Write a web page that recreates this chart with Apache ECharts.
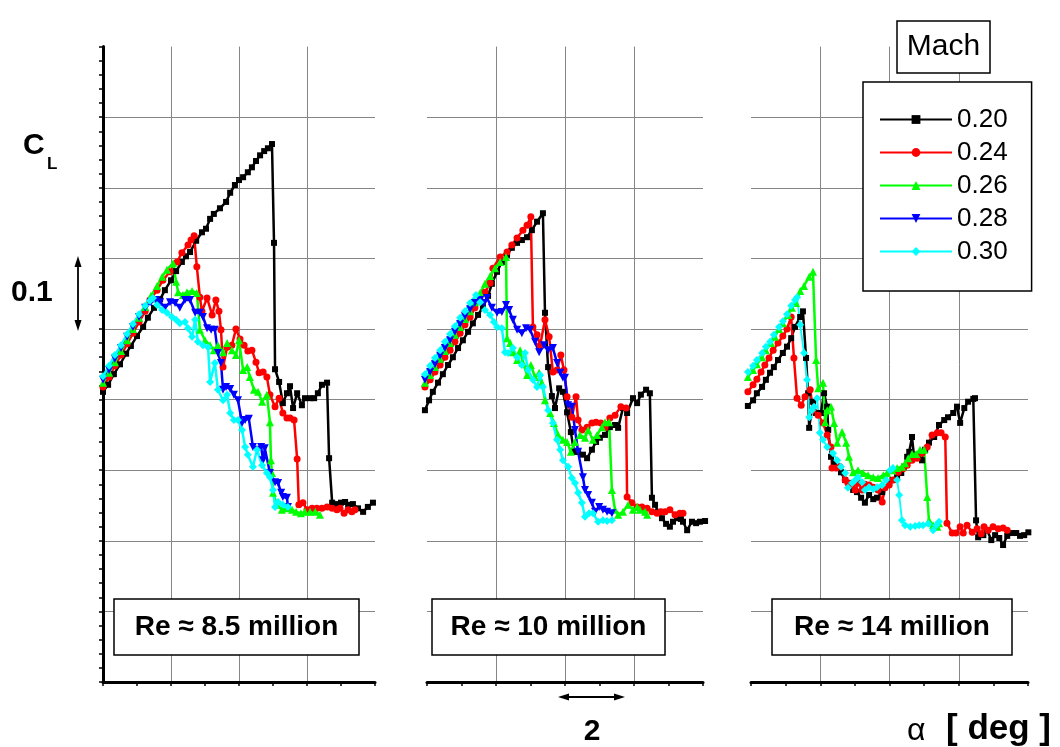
<!DOCTYPE html>
<html>
<head>
<meta charset="utf-8">
<script src="https://cdn.jsdelivr.net/npm/echarts@6/dist/echarts.min.js"></script>
<style>
html,body{margin:0;padding:0;background:#fff}
#chart{width:1060px;height:747px}
</style>
</head>
<body>
<div id="chart"></div>
<script>
// Mach numbers of the runs (legend entries)
const machLabels = ['0.20', '0.24', '0.26', '0.28', '0.30'];
// Reynolds-number captions, one per panel
const panelTitles = ['Re \u2248 8.5 million', 'Re \u2248 10 million', 'Re \u2248 14 million'];
// Scale-bar labels
const clScaleLabel = '0.1';
const alphaScaleLabel = '2';

// Each run: [alpha (deg, relative to panel origin), CL]
// ---- Re ~ 8.5 million ----
const re85_m20 = [[0,.411],[.15,.421],[.32,.436],[.5,.45],[.68,.465],[.82,.476],[1,.49],[1.18,.503],[1.32,.516],[1.5,.53],[1.68,.542],[1.82,.555],[2,.569],[2.15,.582],[2.32,.595],[2.44,.603],[2.56,.609],[2.74,.625],[2.91,.637],[3.03,.642],[3.15,.656],[3.26,.663],[3.44,.671],[3.62,.68],[3.74,.693],[3.88,.704],[4,.711],[4.12,.715],[4.26,.722],[4.38,.729],[4.5,.738],[4.62,.746],[4.74,.752],[4.85,.756],[4.97,.762],[5.03,.622],[5.06,.443],[5.18,.425],[5.29,.395],[5.41,.409],[5.5,.419],[5.59,.388],[5.71,.409],[5.85,.392],[5.94,.402],[6.09,.402],[6.21,.402],[6.32,.409],[6.44,.421],[6.59,.424],[6.65,.317],[6.74,.254],[6.88,.252],[7,.254],[7.12,.255],[7.21,.251],[7.35,.252],[7.5,.246],[7.65,.241],[7.79,.248],[7.94,.254]];
const re85_m24 = [[0,.418],[.18,.432],[.35,.448],[.53,.463],[.71,.479],[.88,.494],[1.06,.51],[1.24,.525],[1.38,.541],[1.59,.555],[1.76,.569],[1.97,.581],[2.18,.595],[2.32,.608],[2.5,.619],[2.59,.626],[2.68,.632],[2.76,.588],[2.85,.545],[2.91,.525],[3.06,.544],[3.21,.52],[3.32,.541],[3.41,.525],[3.47,.499],[3.53,.446],[3.65,.474],[3.79,.477],[3.91,.5],[4.03,.486],[4.15,.477],[4.26,.469],[4.38,.47],[4.5,.453],[4.59,.438],[4.71,.439],[4.82,.432],[4.91,.407],[5.06,.39],[5.18,.402],[5.29,.381],[5.41,.374],[5.5,.374],[5.62,.371],[5.71,.316],[5.76,.251],[5.88,.254],[6,.244],[6.15,.246],[6.29,.246],[6.44,.246],[6.59,.248],[6.74,.246],[6.88,.244],[6.97,.246],[7.09,.239],[7.21,.244],[7.32,.241],[7.41,.244]];
const re85_m26 = [[0,.424],[.18,.438],[.35,.453],[.53,.469],[.71,.484],[.88,.5],[1.06,.516],[1.24,.531],[1.41,.547],[1.59,.561],[1.74,.574],[1.88,.584],[2.06,.593],[2.15,.567],[2.21,.552],[2.35,.548],[2.47,.552],[2.62,.554],[2.76,.551],[2.85,.499],[3,.484],[3.15,.477],[3.26,.47],[3.38,.477],[3.53,.467],[3.65,.48],[3.79,.47],[3.91,.463],[4,.484],[4.12,.442],[4.24,.446],[4.32,.432],[4.44,.414],[4.56,.411],[4.68,.397],[4.82,.407],[4.91,.368],[4.94,.314],[4.97,.296],[5,.268],[5.12,.251],[5.26,.244],[5.41,.246],[5.56,.244],[5.68,.241],[5.82,.239],[5.94,.241],[6.09,.241],[6.24,.241],[6.38,.237]];
const re85_m28 = [[0,.428],[.18,.442],[.35,.458],[.53,.473],[.71,.489],[.88,.503],[1.06,.517],[1.24,.53],[1.41,.538],[1.56,.541],[1.68,.538],[1.82,.53],[1.97,.538],[2.12,.537],[2.26,.53],[2.41,.541],[2.56,.541],[2.71,.523],[2.85,.523],[2.94,.517],[3.06,.501],[3.18,.499],[3.29,.499],[3.38,.466],[3.47,.452],[3.53,.414],[3.62,.418],[3.74,.415],[3.85,.407],[3.97,.399],[4.09,.367],[4.18,.371],[4.29,.373],[4.41,.333],[4.53,.329],[4.65,.333],[4.71,.314],[4.76,.331],[4.91,.296],[5.06,.283],[5.15,.282],[5.24,.268],[5.29,.262],[5.41,.261],[5.44,.248]];
const re85_m30 = [[0,.433],[.18,.448],[.35,.463],[.53,.477],[.71,.493],[.88,.507],[1.06,.521],[1.24,.533],[1.38,.54],[1.47,.544],[1.59,.534],[1.74,.527],[1.88,.523],[2.03,.517],[2.15,.513],[2.26,.508],[2.41,.51],[2.5,.501],[2.62,.489],[2.71,.513],[2.79,.482],[2.94,.477],[3.09,.474],[3.15,.425],[3.29,.452],[3.38,.414],[3.53,.399],[3.65,.407],[3.74,.381],[3.85,.371],[3.97,.371],[4.09,.357],[4.18,.333],[4.26,.322],[4.41,.305],[4.53,.329],[4.68,.307],[4.82,.296],[4.91,.29],[5,.272],[5.06,.248],[5.15,.255],[5.29,.251],[5.44,.248]];

// ---- Re ~ 10 million ----
const re10_m20 = [[-.06,.385],[.06,.399],[.17,.411],[.32,.424],[.46,.436],[.61,.449],[.75,.46],[.9,.473],[1.04,.484],[1.19,.496],[1.33,.508],[1.48,.52],[1.62,.531],[1.77,.547],[1.88,.564],[2.03,.581],[2.17,.595],[2.32,.605],[2.46,.615],[2.61,.622],[2.75,.626],[2.9,.63],[3.04,.64],[3.19,.652],[3.36,.664],[3.42,.523],[3.51,.446],[3.62,.405],[3.71,.388],[3.83,.416],[3.94,.411],[4.06,.382],[4.17,.354],[4.26,.326],[4.38,.326],[4.52,.322],[4.64,.317],[4.78,.329],[4.9,.34],[5.01,.346],[5.16,.35],[5.3,.361],[5.45,.364],[5.54,.36],[5.68,.388],[5.8,.381],[5.97,.402],[6.09,.395],[6.2,.407],[6.35,.414],[6.46,.409],[6.52,.261],[6.61,.251],[6.7,.241],[6.81,.232],[6.93,.224],[7.04,.22],[7.13,.227],[7.25,.232],[7.36,.231],[7.42,.227],[7.54,.215],[7.68,.227],[7.8,.225],[7.91,.227],[8.06,.228]];
const re10_m24 = [[-.06,.418],[.09,.428],[.23,.439],[.38,.449],[.52,.46],[.67,.47],[.81,.482],[.96,.494],[1.1,.506],[1.25,.517],[1.39,.53],[1.54,.541],[1.68,.552],[1.83,.565],[1.91,.586],[2.12,.602],[2.32,.609],[2.46,.619],[2.61,.629],[2.78,.64],[2.9,.647],[3.01,.659],[3.07,.503],[3.19,.492],[3.28,.477],[3.42,.513],[3.54,.489],[3.65,.439],[3.77,.442],[3.88,.463],[3.97,.442],[4.06,.404],[4.2,.375],[4.32,.404],[4.38,.371],[4.49,.357],[4.64,.361],[4.78,.367],[4.9,.368],[5.04,.367],[5.16,.36],[5.3,.374],[5.45,.378],[5.62,.39],[5.77,.388],[5.8,.262],[5.94,.254],[6.09,.248],[6.23,.248],[6.38,.246],[6.52,.241],[6.67,.239],[6.78,.241],[6.9,.241],[7.04,.244],[7.19,.237],[7.33,.239],[7.42,.239]];
const re10_m26 = [[-.06,.424],[.09,.435],[.23,.446],[.38,.458],[.52,.469],[.67,.48],[.81,.492],[.96,.503],[1.1,.514],[1.25,.525],[1.39,.538],[1.54,.551],[1.68,.564],[1.83,.575],[1.97,.586],[2.12,.595],[2.29,.602],[2.32,.487],[2.41,.48],[2.49,.467],[2.61,.456],[2.7,.47],[2.78,.452],[2.9,.435],[3.01,.449],[3.13,.432],[3.25,.438],[3.33,.424],[3.42,.399],[3.57,.381],[3.68,.367],[3.8,.35],[3.94,.343],[4.06,.34],[4.17,.326],[4.29,.34],[4.43,.35],[4.58,.346],[4.67,.357],[4.81,.343],[4.93,.35],[5.07,.361],[5.16,.368],[5.28,.368],[5.36,.272],[5.45,.244],[5.54,.237],[5.68,.241],[5.83,.251],[5.97,.244],[6.09,.248],[6.17,.244],[6.32,.241],[6.38,.237]];
const re10_m28 = [[-.06,.428],[.09,.439],[.23,.45],[.38,.462],[.52,.473],[.67,.484],[.81,.496],[.96,.507],[1.1,.518],[1.25,.528],[1.39,.537],[1.54,.541],[1.65,.537],[1.74,.544],[1.88,.53],[2.03,.523],[2.17,.524],[2.29,.534],[2.38,.527],[2.49,.513],[2.61,.499],[2.75,.494],[2.87,.501],[2.99,.499],[3.13,.482],[3.25,.467],[3.39,.477],[3.51,.47],[3.65,.473],[3.77,.452],[3.86,.438],[3.94,.431],[4,.431],[4.09,.392],[4.2,.39],[4.29,.357],[4.38,.326],[4.52,.29],[4.58,.272],[4.67,.265],[4.78,.254],[4.87,.241],[4.99,.248],[5.1,.244],[5.22,.241],[5.36,.239]];
const re10_m30 = [[-.06,.436],[.09,.448],[.23,.459],[.38,.47],[.52,.482],[.67,.493],[.81,.504],[.96,.516],[1.1,.525],[1.25,.537],[1.42,.548],[1.54,.538],[1.68,.527],[1.83,.52],[1.94,.51],[2.03,.503],[2.17,.501],[2.26,.467],[2.35,.466],[2.49,.473],[2.61,.46],[2.75,.449],[2.84,.466],[2.93,.442],[3.07,.428],[3.19,.418],[3.28,.435],[3.36,.418],[3.51,.385],[3.65,.367],[3.77,.343],[3.86,.329],[3.94,.314],[4.09,.305],[4.2,.289],[4.29,.282],[4.38,.268],[4.49,.254],[4.58,.234],[4.7,.239],[4.81,.239],[4.96,.227],[5.1,.229],[5.22,.228],[5.36,.229]];

// ---- Re ~ 14 million ----
const re14_m20 = [[-.09,.391],[.06,.399],[.17,.409],[.32,.418],[.43,.428],[.55,.438],[.66,.446],[.78,.456],[.92,.466],[1.04,.475],[1.16,.487],[1.27,.503],[1.42,.517],[1.5,.525],[1.59,.459],[1.65,.409],[1.68,.36],[1.79,.397],[1.88,.381],[2.02,.381],[2.11,.409],[2.2,.39],[2.23,.357],[2.31,.319],[2.4,.31],[2.49,.303],[2.6,.297],[2.72,.286],[2.83,.282],[2.95,.272],[3.06,.269],[3.18,.261],[3.29,.254],[3.41,.265],[3.53,.259],[3.64,.261],[3.79,.269],[3.87,.276],[3.99,.282],[4.1,.286],[4.22,.29],[4.34,.296],[4.42,.305],[4.51,.319],[4.57,.326],[4.65,.347],[4.71,.319],[4.83,.322],[4.94,.314],[5.03,.329],[5.14,.339],[5.29,.347],[5.43,.364],[5.58,.371],[5.69,.375],[5.84,.381],[5.95,.39],[6.04,.367],[6.16,.388],[6.27,.397],[6.42,.401],[6.47,.402],[6.5,.229],[6.56,.205],[6.71,.208],[6.82,.215],[6.94,.201],[7.05,.208],[7.17,.204],[7.28,.194],[7.4,.207],[7.54,.211],[7.66,.211],[7.77,.207],[7.89,.208],[8.01,.212]];
const re14_m24 = [[-.09,.411],[.06,.421],[.17,.429],[.29,.439],[.4,.449],[.52,.459],[.64,.47],[.78,.48],[.92,.49],[1.04,.5],[1.16,.517],[1.24,.459],[1.33,.402],[1.45,.392],[1.56,.404],[1.71,.414],[1.79,.385],[1.94,.378],[2.08,.367],[2.2,.35],[2.31,.333],[2.34,.303],[2.46,.303],[2.57,.305],[2.72,.286],[2.8,.282],[2.92,.279],[3.01,.272],[3.09,.282],[3.21,.272],[3.29,.28],[3.41,.279],[3.53,.276],[3.67,.272],[3.79,.255],[3.87,.275],[3.99,.279],[4.1,.286],[4.25,.297],[4.39,.302],[4.51,.307],[4.65,.314],[4.8,.317],[4.94,.324],[5.09,.333],[5.23,.35],[5.38,.353],[5.49,.353],[5.61,.347],[5.66,.225],[5.81,.211],[5.92,.211],[6.04,.22],[6.13,.211],[6.24,.222],[6.39,.212],[6.53,.217],[6.65,.21],[6.73,.22],[6.85,.215],[6.99,.22],[7.14,.217],[7.28,.218],[7.4,.215]];
const re14_m26 = [[-.09,.432],[.06,.442],[.17,.45],[.32,.46],[.43,.47],[.58,.48],[.69,.489],[.81,.5],[.92,.508],[1.07,.52],[1.18,.53],[1.3,.537],[1.42,.554],[1.53,.561],[1.68,.574],[1.79,.581],[1.88,.456],[1.94,.416],[2.08,.424],[2.14,.368],[2.2,.385],[2.31,.39],[2.4,.367],[2.49,.339],[2.63,.354],[2.75,.339],[2.83,.319],[2.95,.297],[3.09,.3],[3.24,.296],[3.38,.293],[3.53,.29],[3.67,.289],[3.82,.293],[3.93,.296],[4.08,.3],[4.22,.303],[4.36,.305],[4.45,.31],[4.54,.317],[4.65,.323],[4.77,.323],[4.88,.329],[5,.329],[5.09,.262],[5.14,.229],[5.26,.222],[5.38,.22],[5.43,.225]];
const re14_m30 = [[-.09,.439],[.06,.448],[.17,.456],[.32,.466],[.43,.475],[.55,.482],[.66,.492],[.81,.503],[.92,.511],[1.04,.521],[1.16,.533],[1.27,.541],[1.33,.545],[1.42,.506],[1.53,.466],[1.62,.428],[1.68,.375],[1.76,.385],[1.82,.39],[1.91,.402],[1.99,.353],[2.08,.343],[2.2,.333],[2.37,.324],[2.49,.314],[2.6,.305],[2.72,.296],[2.8,.275],[2.92,.282],[3.01,.286],[3.09,.29],[3.21,.283],[3.29,.272],[3.41,.276],[3.53,.273],[3.64,.276],[3.79,.279],[3.9,.286],[4.02,.3],[4.1,.303],[4.22,.286],[4.28,.265],[4.36,.229],[4.45,.222],[4.6,.22],[4.74,.221],[4.86,.222],[4.97,.222],[5.12,.224],[5.26,.215],[5.35,.222],[5.43,.227]];

// Runs grouped per panel
const panels = [
  { runs: [['0.20', re85_m20], ['0.24', re85_m24], ['0.26', re85_m26], ['0.28', re85_m28], ['0.30', re85_m30]] },
  { runs: [['0.20', re10_m20], ['0.24', re10_m24], ['0.26', re10_m26], ['0.28', re10_m28], ['0.30', re10_m30]] },
  { runs: [['0.20', re14_m20], ['0.24', re14_m24], ['0.26', re14_m26], ['0.30', re14_m30]] }
];

// Line colour and marker for each Mach number
const machStyle = {
  '0.20': { color: '#000000', symbol: 'rect', size: 6, rotate: 0 },
  '0.24': { color: '#ff0000', symbol: 'circle', size: 7, rotate: 0 },
  '0.26': { color: '#00ff00', symbol: 'triangle', size: 8, rotate: 0 },
  '0.28': { color: '#0000ff', symbol: 'triangle', size: 8, rotate: 180 },
  '0.30': { color: '#00ffff', symbol: 'diamond', size: 8, rotate: 0 }
};

const FONT = '"Liberation Sans", Arial, Helvetica, sans-serif';
const gridBoxes = [
  { left: 103, width: 272 },
  { left: 427, width: 276 },
  { left: 751, width: 277 }
];
const TOP = 46.6, HEIGHT = 635.4;
const gridGray = '#858585';

const grids = gridBoxes.map(g => ({ left: g.left, top: TOP, width: g.width, height: HEIGHT, containLabel: false }));

const xAxes = gridBoxes.map((g, i) => ({
  type: 'value', gridIndex: i, min: 0, max: 8, interval: 2,
  axisLine: { show: true, onZero: false, lineStyle: { color: '#000', width: 3 } },
  axisTick: { show: true, length: 4, lineStyle: { color: '#000', width: 1.5 } },
  minorTick: { show: true, splitNumber: 2, length: 4, lineStyle: { color: '#000', width: 1.5 } },
  axisLabel: { show: false },
  splitLine: { show: true, showMinLine: false, showMaxLine: false, lineStyle: { color: gridGray, width: 1 } }
}));

const yAxes = gridBoxes.map((g, i) => ({
  type: 'value', gridIndex: i, min: 0, max: 0.9, interval: 0.1,
  axisLine: { show: i === 0, onZero: false, lineStyle: { color: '#000', width: 3 } },
  axisTick: { show: i === 0, length: 4, lineStyle: { color: '#000', width: 1.5 } },
  minorTick: { show: i === 0, splitNumber: 5, length: 4, lineStyle: { color: '#000', width: 1.5 } },
  axisLabel: { show: false },
  splitLine: { show: true, showMinLine: false, showMaxLine: false, lineStyle: { color: gridGray, width: 1 } }
}));

const series = [];
panels.forEach((p, i) => {
  p.runs.forEach(([mach, data]) => {
    const st = machStyle[mach];
    series.push({
      type: 'line', name: mach, xAxisIndex: i, yAxisIndex: i, data: data,
      clip: false, showSymbol: true, showAllSymbol: true,
      symbol: st.symbol, symbolSize: st.size, symbolRotate: st.rotate,
      lineStyle: { color: st.color, width: (i === 2 && mach === '0.30') ? 1.8 : 2.5 },
      itemStyle: { color: st.color, borderWidth: 0 },
      emphasis: { disabled: true },
      animation: false
    });
  });
});

// Caption boxes and scale annotations
const captionBoxes = [
  { x: 114, w: 245 },
  { x: 432, w: 233 },
  { x: 772, w: 240 }
];
const graphic = [];
captionBoxes.forEach((b, i) => {
  graphic.push({ type: 'rect', z: 50, shape: { x: b.x, y: 599, width: b.w, height: 56 },
    style: { fill: '#fff', stroke: '#000', lineWidth: 1.5 } });
  graphic.push({ type: 'text', z: 51, x: b.x + b.w / 2, y: 627,
    style: { text: panelTitles[i], font: 'bold 28px ' + FONT, fill: '#000',
      textAlign: 'center', textVerticalAlign: 'middle', align: 'center', verticalAlign: 'middle' } });
});

function txt(str, x, y, font, align) {
  return { type: 'text', z: 51, x: x, y: y,
    style: { text: str, font: font, fill: '#000', textAlign: align, textVerticalAlign: 'middle', align: align, verticalAlign: 'middle' } };
}
// CL axis title with subscript
graphic.push(txt('C', 23, 146, 'bold 30px ' + FONT, 'left'));
graphic.push(txt('L', 47, 164, 'bold 17px ' + FONT, 'left'));
// vertical scale bar (0.1 in CL)
graphic.push(txt(clScaleLabel, 11, 293, 'bold 30px ' + FONT, 'left'));
graphic.push({ type: 'line', z: 51, shape: { x1: 78, y1: 262, x2: 78, y2: 325 }, style: { stroke: '#000', lineWidth: 1.8 } });
graphic.push({ type: 'polygon', z: 51, shape: { points: [[78, 256], [74.5, 267], [81.5, 267]] }, style: { fill: '#000' } });
graphic.push({ type: 'polygon', z: 51, shape: { points: [[78, 331], [74.5, 320], [81.5, 320]] }, style: { fill: '#000' } });
// horizontal scale bar (2 deg)
graphic.push({ type: 'line', z: 51, shape: { x1: 564, y1: 697, x2: 619, y2: 697 }, style: { stroke: '#000', lineWidth: 1.8 } });
graphic.push({ type: 'polygon', z: 51, shape: { points: [[558, 697], [569, 693.5], [569, 700.5]] }, style: { fill: '#000' } });
graphic.push({ type: 'polygon', z: 51, shape: { points: [[625, 697], [614, 693.5], [614, 700.5]] }, style: { fill: '#000' } });
graphic.push(txt(alphaScaleLabel, 592, 732, 'bold 30px ' + FONT, 'center'));
// x axis title
graphic.push(txt('\u03b1', 907, 731, '32px ' + FONT, 'left'));
graphic.push(txt('[ deg ]', 946, 729, 'bold 35px ' + FONT, 'left'));
// legend title box
graphic.push({ type: 'rect', z: 50, shape: { x: 897, y: 21, width: 93, height: 52 },
  style: { fill: '#fff', stroke: '#000', lineWidth: 1.5 } });
graphic.push(txt('Mach', 943.5, 47, '30px ' + FONT, 'center'));

const chart = echarts.init(document.getElementById('chart'), null, { renderer: 'canvas' });
chart.setOption({
  animation: false,
  backgroundColor: '#ffffff',
  grid: grids,
  xAxis: xAxes,
  yAxis: yAxes,
  legend: {
    data: machLabels, orient: 'vertical', left: 863, top: 82,
    padding: [21, 24, 23, 16], itemWidth: 72, itemHeight: 11, itemGap: 0,
    borderColor: '#000', borderWidth: 1.5, backgroundColor: '#fff',
    selectedMode: false, z: 60,
    textStyle: { fontSize: 26, fontFamily: FONT, color: '#000', lineHeight: 33 }
  },
  graphic: graphic,
  series: series
});
</script>
</body>
</html>
